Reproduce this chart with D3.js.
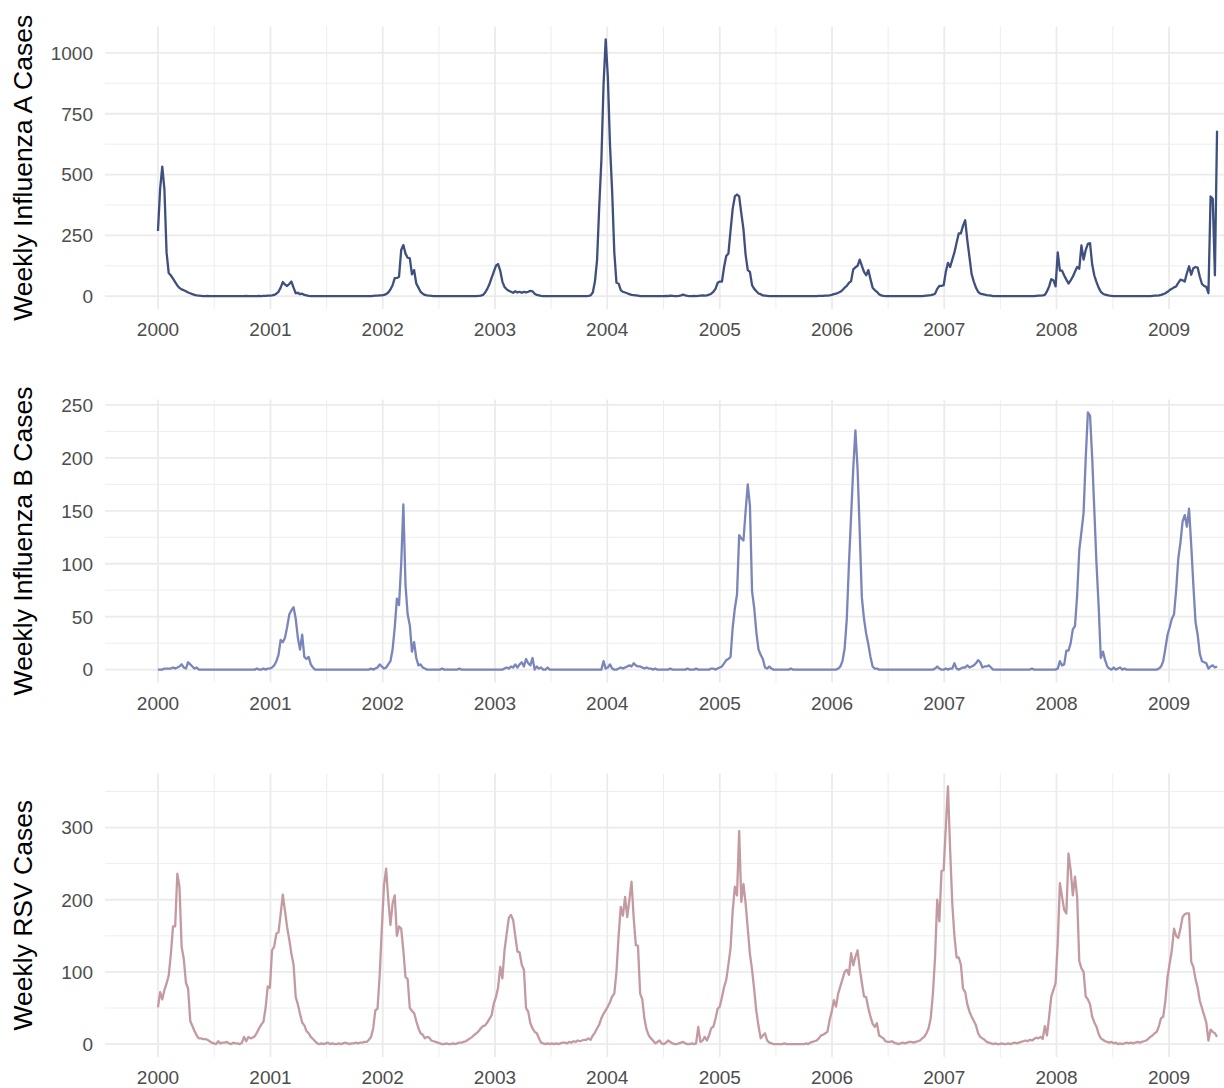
<!DOCTYPE html>
<html>
<head>
<meta charset="utf-8">
<script src="https://cdn.jsdelivr.net/npm/d3@7"></script>
<style>
  body { margin: 0; background: #fff; }
  svg { display: block; font-family: "Liberation Sans", Arial, sans-serif; }
</style>
</head>
<body>
<svg width="1224" height="1088"></svg>
<script>
// weekly counts, first week starting 2000-01-01
const startDate = "2000-01-01";

const fluA = [
  268,440,533,440,180,95,85,72,58,44,34,28,24,20,15,12,8,5,3,2,1,0,0,1,0,0,0,0,0,0,0,0,0,0,0,0,0,0,0,0,0,1,0,0,0,0,0,1,0,1,1,2,
  2,3,5,10,18,35,58,48,42,50,60,35,12,14,8,10,5,3,1,0,0,0,0,0,0,0,0,0,0,0,0,0,0,0,0,0,0,0,0,0,0,0,0,0,0,0,0,0,1,2,2,3,
  3,5,8,15,28,45,74,75,80,190,210,175,158,155,90,107,52,35,18,10,5,3,2,1,0,0,0,0,0,0,0,0,0,0,0,0,0,0,0,0,0,0,0,0,0,1,2,5,15,30,50,75,
  100,125,132,105,60,38,28,22,18,14,20,15,18,14,18,16,18,22,20,10,5,3,1,0,0,0,0,0,0,0,0,0,0,0,0,0,0,0,0,0,0,0,0,0,1,3,15,60,150,370,560,870,
  1056,900,620,430,180,55,52,25,18,15,12,8,5,4,3,2,0,0,0,0,0,0,0,0,0,0,0,0,1,0,2,1,0,0,1,3,6,3,1,0,0,1,0,1,2,3,2,3,6,10,18,30,
  55,60,60,120,165,175,270,360,410,418,410,340,275,170,107,100,45,30,20,11,8,3,2,1,0,0,0,0,0,0,0,0,0,0,0,0,0,0,0,0,0,0,0,0,0,0,0,1,1,1,2,2,
  3,5,8,10,14,18,25,35,42,55,62,110,118,125,150,125,100,86,107,70,35,25,18,8,3,1,0,0,0,0,0,0,0,0,0,0,0,0,0,0,0,0,0,0,1,2,3,4,6,10,30,42,
  42,45,100,137,120,150,180,220,258,258,290,312,229,160,90,60,35,18,10,8,6,4,3,2,0,0,0,0,0,0,0,0,0,0,0,0,0,0,0,0,0,0,0,0,1,2,2,3,5,20,40,70,
  65,40,180,105,105,85,68,52,65,80,100,120,113,209,150,190,215,218,130,85,58,35,18,10,6,4,2,1,0,0,0,0,0,0,0,0,0,0,0,0,0,0,0,0,0,0,1,2,2,3,5,8,
  12,18,25,30,36,40,55,68,65,60,95,123,88,115,120,117,80,50,42,38,12,410,400,86,680
];

const fluB = [
  0,0,0,1,1,1,1,2,1,2,3,5,2,1,7,5,3,1,2,0,0,0,0,0,0,0,0,0,0,0,0,0,0,0,0,0,0,0,0,0,0,0,0,0,0,0,1,0,0,1,0,1,
  1,2,4,8,14,28,26,30,40,52,56,59,48,30,19,33,12,10,12,5,2,0,0,0,0,0,0,0,0,0,0,0,0,0,0,0,0,0,0,0,0,0,0,0,0,0,0,1,0,1,2,5,
  3,1,2,5,8,19,40,67,61,100,156,80,52,42,17,26,11,4,5,2,1,0,0,0,0,0,0,0,1,0,0,0,0,0,0,0,1,0,0,0,0,0,0,0,0,0,0,0,0,0,0,0,
  0,0,0,0,0,1,2,1,3,2,5,2,5,7,3,10,6,4,11,0,3,1,2,0,0,2,0,0,0,0,0,0,0,0,0,0,0,0,0,0,0,0,0,0,0,0,0,0,0,0,0,8,
  1,2,5,1,0,0,1,2,1,2,3,4,3,6,4,3,3,2,1,2,1,1,0,1,0,0,0,0,0,0,1,0,0,0,0,0,0,0,1,0,0,0,1,0,0,0,0,0,0,1,1,0,
  1,2,3,6,9,10,12,40,58,71,127,124,122,150,175,155,74,58,35,19,14,10,2,1,3,1,0,0,0,0,0,0,0,0,1,0,0,0,0,0,0,0,0,0,0,0,0,0,0,0,0,0,
  0,0,0,0,1,3,8,20,48,100,145,190,226,190,130,68,48,34,24,12,3,1,1,0,0,0,0,0,0,0,0,0,0,0,0,0,0,0,0,0,0,0,0,0,0,0,0,0,0,1,3,1,
  0,0,1,0,1,1,6,1,0,1,2,2,4,2,3,4,6,9,7,2,3,3,4,2,0,0,0,0,0,0,0,0,0,0,0,0,0,0,0,0,0,0,1,0,0,0,0,0,0,0,0,0,
  0,0,1,8,4,5,18,18,25,38,41,70,113,130,148,200,243,240,200,150,100,60,11,17,9,3,1,0,2,0,1,2,0,1,0,0,0,0,0,0,0,0,0,0,0,0,0,0,0,1,3,8,
  20,33,40,48,52,75,105,120,140,146,135,152,118,80,45,33,15,8,7,6,1,3,4,2,3
];

const rsv = [
  51,72,62,75,84,95,125,163,163,236,218,135,118,85,77,32,25,18,12,8,8,7,7,6,4,2,1,0,4,1,2,2,3,1,0,2,1,1,0,2,10,4,10,8,9,11,16,22,27,31,50,80,
  78,130,135,153,155,180,207,185,162,145,125,110,65,55,42,30,26,18,15,10,7,4,1,0,1,0,1,2,0,1,0,0,1,0,1,2,1,0,1,1,2,1,2,2,3,3,6,10,22,47,49,95,
  160,220,243,200,165,195,206,150,163,160,130,93,90,50,46,43,32,22,15,13,8,10,9,5,4,3,2,1,0,0,1,0,0,1,0,1,2,2,3,4,6,8,10,13,15,18,22,25,26,30,35,40,
  56,65,78,107,91,130,153,175,179,172,150,128,127,110,103,50,45,29,22,17,15,8,2,1,0,1,0,1,0,1,0,1,2,2,1,3,2,4,3,5,4,5,6,6,8,6,12,16,22,27,36,42,
  47,52,58,66,70,100,150,190,178,204,176,200,225,175,137,136,70,62,35,20,12,8,5,1,3,5,1,0,2,5,3,1,0,0,1,2,3,1,0,0,1,0,1,24,3,5,10,5,12,22,24,35,
  49,52,65,79,89,110,133,185,218,206,295,197,222,195,160,125,103,75,45,25,8,12,15,5,2,1,0,0,0,0,0,1,0,0,0,0,0,0,0,0,0,1,0,2,3,4,5,8,12,13,15,17,
  33,45,61,52,70,80,90,100,103,96,126,109,121,130,105,85,66,65,50,38,28,24,29,12,10,8,4,3,3,4,2,1,0,1,2,1,2,3,3,2,3,4,5,8,10,15,22,36,70,120,200,170,
  240,241,300,357,270,195,150,120,120,110,77,72,55,45,38,32,26,15,10,8,6,3,2,1,0,1,0,0,1,0,0,1,0,1,2,1,2,3,4,5,4,6,5,7,9,8,10,7,25,12,38,66,
  75,85,140,223,204,186,181,264,241,206,232,204,115,105,100,66,62,55,38,30,24,14,8,6,4,3,2,3,1,2,0,1,0,1,2,1,2,1,2,3,2,3,4,5,7,10,12,15,17,25,36,38,
  60,93,112,130,160,150,147,160,176,180,181,181,114,107,90,78,60,50,40,30,5,20,17,15,10
];

const years = [2000, 2001, 2002, 2003, 2004, 2005, 2006, 2007, 2008, 2009];
const fluATicks = [0, 250, 500, 750, 1000];
const fluBTicks = [0, 50, 100, 150, 200, 250];
const rsvTicks = [0, 100, 200, 300];

const panels = [
  { values: fluA, ticks: fluATicks, title: "Weekly Influenza A Cases", color: "#3f4f7e", top: 26.5, bottom: 309 },
  { values: fluB, ticks: fluBTicks, title: "Weekly Influenza B Cases", color: "#7a86b9", top: 399.5, bottom: 682.5 },
  { values: rsv, ticks: rsvTicks, title: "Weekly RSV Cases", color: "#c49aa1", top: 773.5, bottom: 1057 }
];

const svg = d3.select("svg");
const t0 = d3.utcParse("%Y-%m-%d")(startDate);
const dates = fluA.map((d, i) => d3.utcDay.offset(t0, 7 * i));

const first = dates[0], last = dates[dates.length - 1];
const pad = (last - first) * 0.05;
const x = d3.scaleUtc()
  .domain([new Date(+first - pad), new Date(+last + pad)])
  .range([105, 1270]);

const yearDates = years.map(y => new Date(Date.UTC(y, 0, 1)));
const midDates = [];
for (let i = 0; i < yearDates.length; i++) {
  const next = new Date(Date.UTC(years[i] + 1, 0, 1));
  midDates.push(new Date((+yearDates[i] + +next) / 2));
}

panels.forEach(p => {
  const maxV = d3.max(p.values);
  const ypad = maxV * 0.05;
  const y = d3.scaleLinear().domain([-ypad, maxV + ypad]).range([p.bottom, p.top]);

  const step = p.ticks[1] - p.ticks[0];
  const minorTicks = p.ticks.map(t => t + step / 2).filter(t => t < maxV + ypad);

  const g = svg.append("g");

  // grid
  g.selectAll(".ymin").data(minorTicks).enter().append("line")
    .attr("x1", 105).attr("x2", 1270)
    .attr("y1", d => y(d)).attr("y2", d => y(d))
    .attr("stroke", "#ebebeb").attr("stroke-width", 0.9);
  g.selectAll(".xmin").data(midDates).enter().append("line")
    .attr("x1", d => x(d)).attr("x2", d => x(d))
    .attr("y1", p.top).attr("y2", p.bottom)
    .attr("stroke", "#ebebeb").attr("stroke-width", 0.9);
  g.selectAll(".ymaj").data(p.ticks).enter().append("line")
    .attr("x1", 105).attr("x2", 1270)
    .attr("y1", d => y(d)).attr("y2", d => y(d))
    .attr("stroke", "#ebebeb").attr("stroke-width", 1.8);
  g.selectAll(".xmaj").data(yearDates).enter().append("line")
    .attr("x1", d => x(d)).attr("x2", d => x(d))
    .attr("y1", p.top).attr("y2", p.bottom)
    .attr("stroke", "#ebebeb").attr("stroke-width", 1.8);

  // series
  const line = d3.line()
    .x((d, i) => x(dates[i]))
    .y(d => y(d));
  g.append("path")
    .datum(p.values)
    .attr("d", line)
    .attr("fill", "none")
    .attr("stroke", p.color)
    .attr("stroke-width", 2.3)
    .attr("stroke-linejoin", "round");

  // y tick labels
  g.selectAll(".ylab").data(p.ticks).enter().append("text")
    .attr("x", 93).attr("y", d => y(d)).attr("dy", "0.36em")
    .attr("text-anchor", "end")
    .attr("font-size", 19).attr("fill", "#4d4d4d")
    .text(d => d);

  // x tick labels
  g.selectAll(".xlab").data(yearDates).enter().append("text")
    .attr("x", d => x(d)).attr("y", p.bottom + 27)
    .attr("text-anchor", "middle")
    .attr("font-size", 19).attr("fill", "#4d4d4d")
    .text(d => d.getUTCFullYear());

  // axis title
  g.append("text")
    .attr("transform", `translate(32,${(p.top + p.bottom) / 2}) rotate(-90)`)
    .attr("text-anchor", "middle")
    .attr("font-size", 26.5).attr("fill", "#000")
    .text(p.title);
});
</script>
</body>
</html>
